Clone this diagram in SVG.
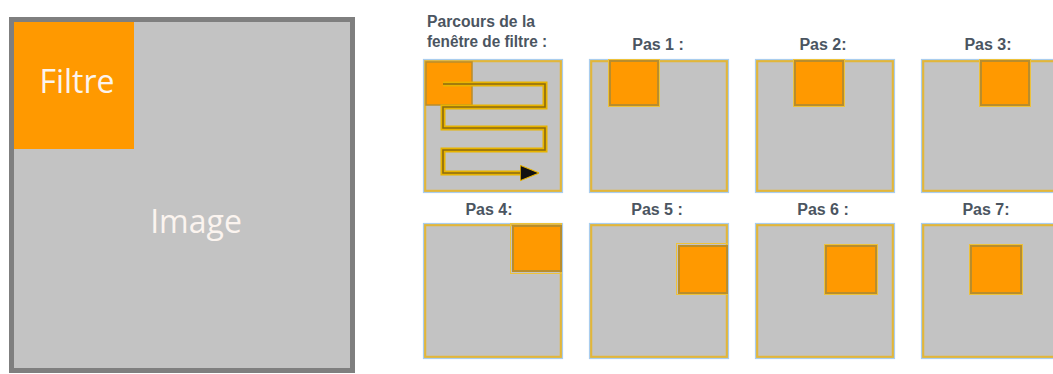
<svg xmlns="http://www.w3.org/2000/svg" width="1053" height="374" viewBox="0 0 1053 374">
<style>
.lbl{font-family:"Liberation Sans",Arial,sans-serif;font-weight:bold;font-size:16px;fill:#4b5561;}
.cap{text-anchor:middle;}
.box{fill:#c3c3c3;stroke:#e2b63a;stroke-width:2.5;}
.boxo{fill:none;stroke:#a9cdee;stroke-width:1.2;}
.win{fill:#ff9900;stroke:#b98d2c;stroke-width:2;}
.wino{fill:none;stroke:#eec23a;stroke-width:1;}
.big{font-family:"Open Sans","Liberation Sans",sans-serif;font-size:32px;fill:#fbf4ef;}
</style>
<defs>
<marker id="ah" viewBox="0 0 10 10" refX="2" refY="5" markerWidth="19" markerHeight="17" orient="auto" markerUnits="userSpaceOnUse" preserveAspectRatio="none">
<path d="M0,0.5 L10,5 L0,9.5 Z" fill="#111" stroke="#e8b400" stroke-width="0.6"/>
</marker>
</defs>
<rect width="1053" height="374" fill="#ffffff"/>

<g id="image">
<rect x="11.5" y="19.5" width="341" height="351" fill="#c3c3c3" stroke="#7f7f7f" stroke-width="5"/>
<text class="big" x="196" y="233" text-anchor="middle" fill="#f2f5f8">Image</text>
</g>
<g id="filtre">
<rect x="14" y="22" width="120" height="127" fill="#ff9900"/>
<text class="big" x="77" y="93" text-anchor="middle">Filtre</text>
</g>

<g id="parcours">
<text class="lbl" x="427" y="27" textLength="108" lengthAdjust="spacingAndGlyphs">Parcours de la</text>
<text class="lbl" x="427" y="47" textLength="120" lengthAdjust="spacingAndGlyphs">fenêtre de filtre :</text>
<rect class="box" x="425" y="61" width="136" height="130"/>
<rect class="boxo" x="423.5" y="59.5" width="139" height="133"/>
<rect x="426" y="62" width="46" height="43" fill="#ff9900" stroke="#b98d2c" stroke-width="1.5"/>
</g>

<g id="pas1">
<text class="lbl cap" x="658" y="50">Pas 1 :</text>
<rect class="box" x="591" y="61" width="136" height="130"/>
<rect class="boxo" x="589.5" y="59.5" width="139" height="133"/>
<rect class="wino" x="608.5" y="59.5" width="51" height="47"/>
<rect class="win" x="610" y="61" width="48" height="44"/>
</g>
<g id="pas2">
<text class="lbl cap" x="823" y="50">Pas 2:</text>
<rect class="box" x="757" y="61" width="136" height="130"/>
<rect class="boxo" x="755.5" y="59.5" width="139" height="133"/>
<rect class="wino" x="793.5" y="59.5" width="51" height="47"/>
<rect class="win" x="795" y="61" width="48" height="44"/>
</g>
<g id="pas3">
<text class="lbl cap" x="988" y="50">Pas 3:</text>
<rect class="box" x="923" y="61" width="136" height="130"/>
<rect class="boxo" x="921.5" y="59.5" width="139" height="133"/>
<rect class="wino" x="979.5" y="59.5" width="51" height="47"/>
<rect class="win" x="981" y="61" width="48" height="44"/>
</g>
<g id="pas4">
<text class="lbl cap" x="489" y="215">Pas 4:</text>
<rect class="box" x="425" y="225" width="136" height="132"/>
<rect class="boxo" x="423.5" y="223.5" width="139" height="135"/>
<rect class="wino" x="510.5" y="223.5" width="51" height="50"/>
<rect class="win" x="513" y="226" width="48" height="45"/>
</g>
<g id="pas5">
<text class="lbl cap" x="657" y="215">Pas 5 :</text>
<rect class="box" x="591" y="225" width="136" height="132"/>
<rect class="boxo" x="589.5" y="223.5" width="139" height="135"/>
<rect class="wino" x="676.5" y="243.5" width="51" height="51"/>
<rect class="win" x="679" y="246" width="48" height="47"/>
</g>
<g id="pas6">
<text class="lbl cap" x="823" y="215">Pas 6 :</text>
<rect class="box" x="757" y="225" width="136" height="132"/>
<rect class="boxo" x="755.5" y="223.5" width="139" height="135"/>
<rect class="wino" x="824.5" y="244.5" width="53" height="50"/>
<rect class="win" x="826" y="246" width="50" height="47"/>
</g>
<g id="pas7">
<text class="lbl cap" x="986" y="215">Pas 7:</text>
<rect class="box" x="923" y="225" width="136" height="132"/>
<rect class="boxo" x="921.5" y="223.5" width="139" height="135"/>
<rect class="wino" x="969.5" y="244.5" width="53" height="50"/>
<rect class="win" x="971" y="246" width="50" height="47"/>
</g>

<g id="connectors">
<path d="M443,84 H545 V107 H443 V128 H545 V150 H443 V173 H524" fill="none" stroke="#e8b400" stroke-width="5" stroke-linejoin="miter"/>
<path d="M443,84 H545 V107 H443 V128 H545 V150 H443 V173 H524" fill="none" stroke="#8a6a10" stroke-width="1.6" marker-end="url(#ah)"/>
</g>
</svg>
